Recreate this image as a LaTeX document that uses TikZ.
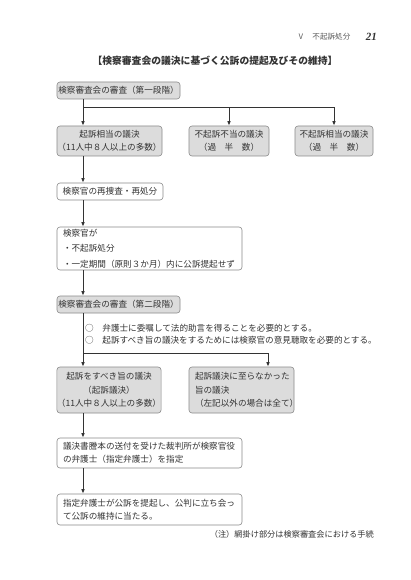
\documentclass[tikz,border=0pt]{standalone}
\usepackage{fontspec}
\newfontfamily\jp{Noto Sans CJK JP}
\setmainfont{Liberation Serif}
\usetikzlibrary{arrows.meta}
\definecolor{ink}{HTML}{333333}
\definecolor{edge}{HTML}{8A8A8A}
\definecolor{shade}{HTML}{DCDCDC}
\begin{document}
\begin{tikzpicture}[x=1pt,y=-1pt,
  base/.style={draw=edge, line width=0.6pt, rounded corners=3pt, inner sep=0pt,
    text=ink, font=\jp\fontsize{8.6}{13}\selectfont, align=center},
  graybox/.style={base, fill=shade},
  whitebox/.style={base, fill=white},
  ln/.style={draw=ink, line width=0.9pt},
  arr/.style={ln, -{Latex[length=4.5pt,width=3.6pt]}},
  plain/.style={text=ink, inner sep=0pt, font=\jp\fontsize{8.6}{13}\selectfont}
]
\useasboundingbox (0,0) rectangle (410,580);
\fill[white] (0,0) rectangle (410,580);

% header
\node[plain, anchor=west, font=\jp\fontsize{7.6}{9}\selectfont, text=ink!80] (hd) at (297,37) {Ⅴ　不起訴処分};
\node[plain, anchor=east, font=\fontsize{11}{12}\selectfont\bfseries\itshape] (pg) at (377,37) {21};
\node[plain, font=\jp\bfseries\fontsize{9.8}{12}\selectfont] (title) at (215,61) {【検察審査会の議決に基づく公訴の提起及びその維持】};

% boxes
\node[graybox, minimum width=123pt, minimum height=17pt] (s1) at (118.5,90.5) {検察審査会の審査（第一段階）};
\node[graybox, minimum width=105pt, minimum height=30pt] (a) at (109.5,141) {起訴相当の議決\\（11人中８人以上の多数）};
\node[graybox, minimum width=80pt, minimum height=30pt] (b) at (229,141) {不起訴不当の議決\\（過　半　数）};
\node[graybox, minimum width=78pt, minimum height=30pt] (c) at (334,141) {不起訴相当の議決\\（過　半　数）};
\node[whitebox, minimum width=106pt, minimum height=17pt] (r) at (110,191.5) {検察官の再捜査・再処分};
\node[whitebox, minimum width=185pt, minimum height=43pt, text width=173pt, align=left, font=\jp\fontsize{8.6}{15.5}\selectfont] (k) at (149.5,248.5) {検察官が\\・不起訴処分\\・一定期間（原則３か月）内に公訴提起せず};
\node[graybox, minimum width=123pt, minimum height=17pt] (s2) at (118.5,304.5) {検察審査会の審査（第二段階）};
\node[plain, anchor=west, align=left, font=\jp\fontsize{8.6}{12.5}\selectfont] (notes) at (85,334.2) {○　弁護士に委嘱して法的助言を得ることを必要的とする。\\○　起訴すべき旨の議決をするためには検察官の意見聴取を必要的とする。};
\node[graybox, minimum width=104pt, minimum height=46pt, font=\jp\fontsize{8.6}{13.5}\selectfont] (d) at (109,390) {起訴をすべき旨の議決\\（起訴議決）\\（11人中８人以上の多数）};
\node[graybox, minimum width=105pt, minimum height=46pt, text width=93pt, align=left, font=\jp\fontsize{8.6}{13.5}\selectfont] (e) at (241.5,390) {起訴議決に至らなかった\\旨の議決\\（左記以外の場合は全て）};
\node[whitebox, minimum width=185pt, minimum height=30pt, text width=173pt, align=left] (f) at (149.5,453) {議決書謄本の送付を受けた裁判所が検察官役\\の弁護士（指定弁護士）を指定};
\node[whitebox, minimum width=185pt, minimum height=31pt, text width=173pt, align=left] (g) at (149.5,509.5) {指定弁護士が公訴を提起し、公判に立ち会っ\\て公訴の維持に当たる。};
\node[plain, anchor=east, font=\jp\fontsize{8.2}{10}\selectfont] (note) at (374,534) {（注）網掛け部分は検察審査会における手続};

% connectors
\coordinate (t) at (83,0);
\coordinate (j1) at (83,107);
\coordinate (j2) at (83,353);
\coordinate (ex) at (268,0);
\draw[arr] (s1.south -| t) -- (a.north -| t);
\draw[arr] (j1) -| (b.north);
\draw[arr] (j1) -| (c.north);
\draw[arr] (a.south -| t) -- (r.north -| t);
\draw[arr] (r.south -| t) -- (k.north -| t);
\draw[arr] (k.south -| t) -- (s2.north -| t);
\draw[arr] (s2.south -| t) -- (d.north -| t);
\draw[arr] (j2) -| (e.north -| ex);
\draw[arr] (d.south -| t) -- (f.north -| t);
\draw[arr] (f.south -| t) -- (g.north -| t);
\end{tikzpicture}
\end{document}
